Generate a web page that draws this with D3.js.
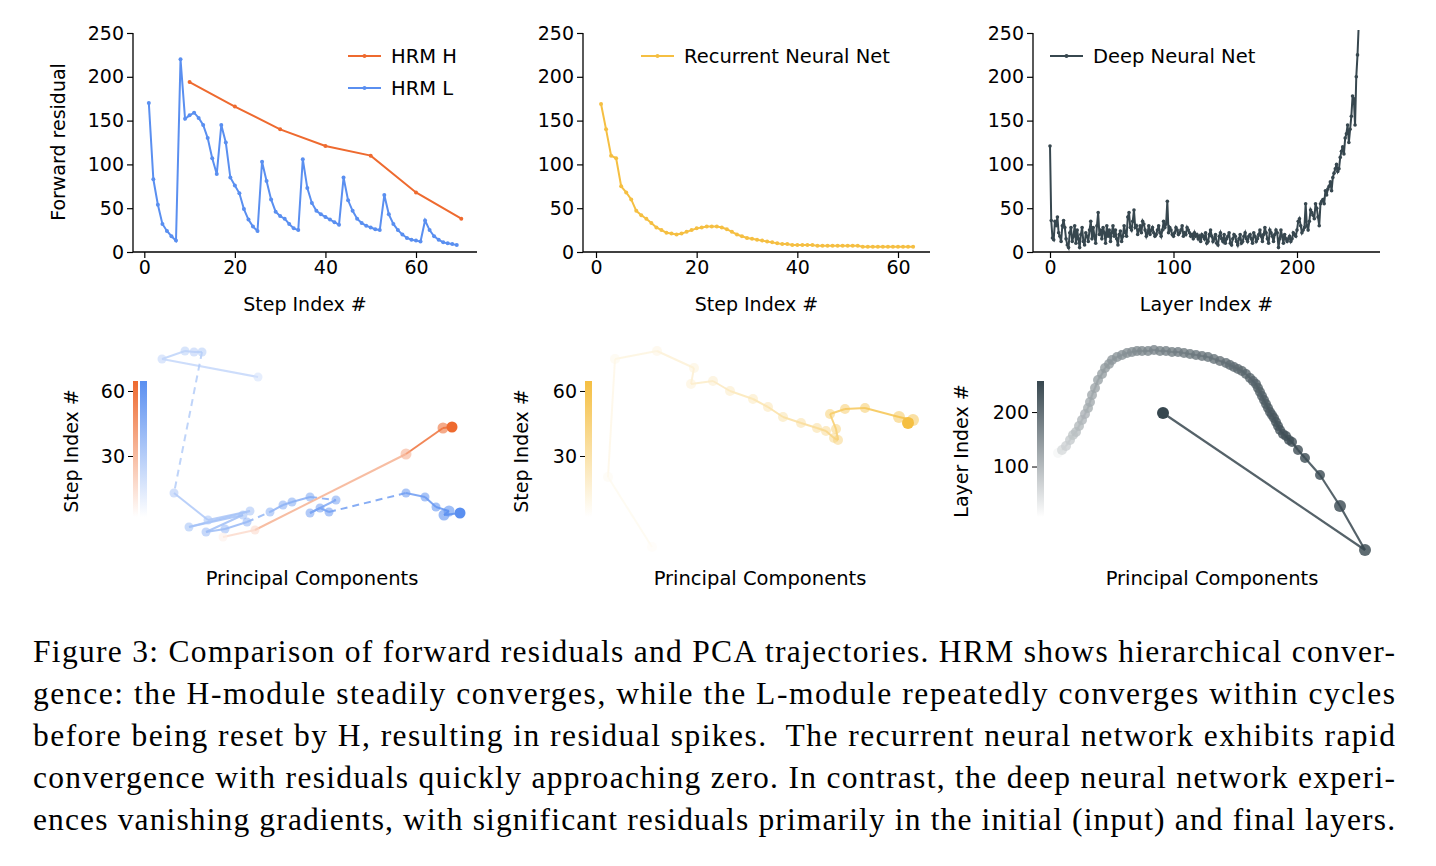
<!DOCTYPE html>
<html><head><meta charset="utf-8">
<script src="https://cdn.jsdelivr.net/npm/d3@7/dist/d3.min.js"></script>
<style>body{margin:0;background:#fff}svg{display:block}</style>
</head><body><svg id="c" width="1436" height="866"></svg>
<script>
// ---------- DATA ----------
const hrmLSteps = d3.range(1, 70);
const hrmL = [170,83,54,32,24,18,13,220,152,156,159,153,145,130,107,89,145,125,85,76,67,49,37,29,24,
  103,81,60,46,41,38,32,27,25,106,73,56,47,43,40,37,34,31,85,59,47,38,33,30,28,26,25,
  65,43,32,25,20,16,14,13,12,36,25,18,14,11,10,9,8];
const hrmHSteps = [10,20,30,40,50,60,70];
const hrmH = [194,166,140,121,110,68,38];
const rnnSteps = d3.range(1, 64);
const rnn = [169,140,110,107,75,68,60,47,42,38,33,28,25,22,21,20,21,23,25,27,28,29,29,29,28,26,23,20,18,16,
  15,14,13,12,11,10,9,9,8,8,8,8,8,7,7,7,7,7,7,7,7,7,6,6,6,6,6,6,6,6,6,6,6];
const dnn = [121,36,16,14,35,30,40,22,18,12, 30,36,28,15,8,5,22,28,12,18, 30,10,25,15,5,20,28,12,8,22,
  18,12,25,35,15,28,18,10,30,45, 20,25,15,28,22,10,30,18,25,12, 22,30,18,25,15,8,20,24,12,18,
  30,22,18,40,45,28,25,35,48,28, 30,20,25,30,22,35,32,25,18,22, 30,20,25,28,22,18,20,25,30,22,
  18,25,35,28,32,58,22,28,25,20, 18,22,28,25,20,22,25,30,18,22, 20,28,25,22,18,20,15,22,18,20,
  15,18,12,20,18,15,22,10,12,20, 25,18,12,15,20,10,8,18,22,15, 12,20,10,15,18,22,10,8,15,20,
  18,12,8,15,20,10,12,18,22,15, 12,18,20,15,10,22,18,12,15,20, 25,18,12,20,28,22,15,10,25,22,
  18,12,20,25,22,5,15,25,18,10, 20,15,12,15,18,12,15,22,20,18, 25,35,38,30,22,25,28,55,30,25,
  35,48,45,42,38,55,50,40,30,55, 58,60,55,70,65,72,75,80,70,85, 90,95,100,92,95,108,115,120,112,130,
  135,145,125,140,155,178,175,145,200,225,260];
const yTicks = [0,50,100,150,200,250];

// PCA trajectories (PC1, PC2 in arbitrary units; t = step/layer index; dashed = segment into this point)
const pcaH = {pc1:[73,105,256,293,302], pc2:[23,30,106,132,133], t:[0,10,30,60,64]};
const pcaL = {
  pc1:[108,12,35,44,52,24,58,100,39,93,56,75,97,120,133,142,160,186,160,170,179,256,275,286,299,294,310],
  pc2:[183,201,209,208,208,67,40,49,33,45,28,31,38,48,55,58,63,60,47,52,48,67,63,53,49,45,47],
  t:[0,4,6,7,8,10,13,14,16,18,20,22,24,27,30,33,35,37,40,43,45,48,52,56,60,63,65],
  dashed:[0,0,0,0,0,1,0,0,0,0,0,0,0,1,0,0,0,1,0,0,0,1,0,0,0,0,0]};
const pcaR = {
  pc1:[72,28,35,77,114,111,133,150,173,188,203,221,237,246,254,258,256,250,265,285,319,333,328],
  pc2:[13,83,201,209,192,176,179,169,161,153,143,137,132,129,122,120,131,146,151,152,143,140,137],
  t:[0,2,5,8,11,13,16,19,22,25,28,31,34,37,40,43,46,49,52,55,58,61,63]};
const pcaD = {
  pc1:[28,32,36,40,43,46,49,52,55,58,60,62,65,68,72,75,79,82,87,92,97,102,107,112,118,124,130,136,142,148,154,160,166,172,178,184,190,196,200,204,208,212,216,220,223,226,228,230,232,234,236,238,240,242,244,246,248,250,253,256,259,262,268,275,290,310,335,133],
  pc2:[107,110,114,120,125,128,134,140,146,152,158,165,172,180,186,192,196,200,203,205,207,208,209,209,209,210,209,209,208,208,207,206,205,204,203,201,199,197,195,193,191,189,186,182,179,176,172,168,164,160,156,152,148,145,142,138,134,130,126,124,120,118,110,102,85,54,10,147],
  t:null};
pcaD.t = pcaD.pc1.map((d, i) => i === pcaD.pc1.length - 1 ? 250 : Math.round(i * 249 / (pcaD.pc1.length - 2)));

// ---------- DRAW ----------
const svg = d3.select("#c");
const F = "DejaVu Sans";
const cH = "#EE6A2F", cL = "#5A8FF0", cR = "#F5BF42", cD = "#37474F";

function linePanel(o) {
  const g = svg.append("g");
  const x = d3.scaleLinear().domain(o.xd).range(o.xr);
  const y = d3.scaleLinear().domain([0,250]).range([252,33]);
  const cid = "clip" + o.id;
  svg.append("clipPath").attr("id", cid).append("rect").attr("x", o.ax).attr("y", 30).attr("width", o.axEnd - o.ax).attr("height", 224);
  g.append("g").attr("transform", `translate(${o.ax},0)`).call(d3.axisLeft(y).tickValues(yTicks).tickSize(6).tickSizeOuter(0));
  g.append("g").attr("transform", `translate(0,252)`).call(d3.axisBottom(x).tickValues(o.xt).tickSize(6).tickSizeOuter(0));
  g.selectAll(".domain").remove();
  g.append("line").attr("x1", o.ax).attr("x2", o.ax).attr("y1", 33).attr("y2", 252).attr("stroke", "#000").attr("stroke-width", 1.3);
  g.append("line").attr("x1", o.ax).attr("x2", o.axEnd).attr("y1", 252).attr("y2", 252).attr("stroke", "#000").attr("stroke-width", 1.3);
  g.selectAll(".tick text").attr("font-family", F).attr("font-size", 19).attr("fill", "#000");
  g.selectAll(".tick line").attr("stroke-width", 1.2);
  g.append("text").attr("x", (o.ax + o.axEnd) / 2).attr("y", 311).attr("text-anchor", "middle").attr("font-family", F).attr("font-size", 19).text(o.xl);
  if (o.yl) g.append("text").attr("transform", "translate(65,142) rotate(-90)").attr("text-anchor", "middle").attr("font-family", F).attr("font-size", 19).text(o.yl);
  const lg = g.append("g").attr("clip-path", `url(#${cid})`);
  o.series.forEach(s => {
    const pts = s.xs.map((d, i) => [x(d), y(s.ys[i])]);
    lg.append("path").attr("d", d3.line()(pts)).attr("fill", "none").attr("stroke", s.c).attr("stroke-width", 2);
    lg.selectAll(null).data(pts).join("circle").attr("cx", d => d[0]).attr("cy", d => d[1]).attr("r", s.r || 2).attr("fill", s.c);
  });
  o.legend.forEach((s, i) => {
    const yy = o.ly + i * 32;
    g.append("line").attr("x1", o.lx).attr("x2", o.lx + 33).attr("y1", yy).attr("y2", yy).attr("stroke", s.c).attr("stroke-width", 2);
    g.append("circle").attr("cx", o.lx + 16.5).attr("cy", yy).attr("r", 2).attr("fill", s.c);
    g.append("text").attr("x", o.lx + 43).attr("y", yy + 7).attr("font-family", F).attr("font-size", 19.5).text(s.name);
  });
}

linePanel({id:1, ax:133, axEnd:477, xd:[0,60], xr:[144.3,416], xt:[0,20,40,60], xl:"Step Index #", yl:"Forward residual",
  series:[{xs:hrmHSteps, ys:hrmH, c:cH}, {xs:hrmLSteps, ys:hrmL, c:cL}],
  legend:[{name:"HRM H", c:cH}, {name:"HRM L", c:cL}], lx:348, ly:56});
linePanel({id:2, ax:583, axEnd:930, xd:[0,60], xr:[596,898], xt:[0,20,40,60], xl:"Step Index #",
  series:[{xs:rnnSteps, ys:rnn, c:cR}], legend:[{name:"Recurrent Neural Net", c:cR}], lx:641, ly:56});
linePanel({id:3, ax:1033, axEnd:1380, xd:[0,200], xr:[1050,1297], xt:[0,100,200], xl:"Layer Index #",
  series:[{xs:d3.range(dnn.length), ys:dnn, c:cD, r:1.8}], legend:[{name:"Deep Neural Net", c:cD}], lx:1050, ly:56});

// ---------- PCA panels ----------
function colorbar(x0, w, color) {
  const id = "g" + x0;
  const gr = svg.append("defs").append("linearGradient").attr("id", id).attr("x1", 0).attr("x2", 0).attr("y1", 1).attr("y2", 0);
  gr.append("stop").attr("offset", "0%").attr("stop-color", "#fff");
  gr.append("stop").attr("offset", "100%").attr("stop-color", color);
  svg.append("rect").attr("x", x0).attr("y", 381).attr("width", w).attr("height", 136).attr("fill", `url(#${id})`);
}
function cbAxis(x0, max, ticks, label, lblX) {
  const s = d3.scaleLinear().domain([0, max]).range([521, 381]);
  const g = svg.append("g").attr("transform", `translate(${x0},0)`).call(d3.axisLeft(s).tickValues(ticks).tickSize(5));
  g.select(".domain").remove();
  g.selectAll(".tick text").attr("font-family", F).attr("font-size", 19);
  svg.append("text").attr("transform", `translate(${lblX},451) rotate(-90)`).attr("text-anchor", "middle").attr("font-family", F).attr("font-size", 19).text(label);
}
function pca(tr, color, tmax, x0, y0, dotR, lw, startFade, gamma, halo) {
  const x = d3.scaleLinear().domain([0, 320]).range([x0, x0 + 320]);
  const y = d3.scaleLinear().domain([0, 220]).range([y0, y0 - 220]);
  const col = t => d3.interpolateRgb("#ffffff", color)(startFade + (1 - startFade) * Math.pow(t / tmax, gamma));
  const n = tr.pc1.length;
  for (let i = 1; i < n; i++) {
    svg.append("line").attr("x1", x(tr.pc1[i-1])).attr("y1", y(tr.pc2[i-1])).attr("x2", x(tr.pc1[i])).attr("y2", y(tr.pc2[i]))
      .attr("stroke", col(tr.t[i])).attr("stroke-width", lw).attr("stroke-opacity", 0.85)
      .attr("stroke-dasharray", tr.dashed && tr.dashed[i] ? "7,5" : null);
  }
  for (let i = 0; i < n; i++) {
    const big = i >= n - 3;
    svg.append("circle").attr("cx", x(tr.pc1[i])).attr("cy", y(tr.pc2[i])).attr("r", big ? dotR + 1 : dotR)
      .attr("fill", col(tr.t[i])).attr("fill-opacity", i === n - 1 ? 1 : halo);
  }
}
colorbar(133, 5, cH); colorbar(140, 7, cL); cbAxis(133, 64.6, [30,60], "Step Index #", 78);
pca(pcaL, cL, 65, 150, 560, 4.5, 2, 0.25, 0.7, 0.6);
pca(pcaH, cH, 64, 150, 560, 4.5, 2, 0.1, 1, 0.6);
colorbar(585, 7, cR); cbAxis(585, 64.6, [30,60], "Step Index #", 528);
pca(pcaR, cR, 63, 580, 560, 5, 2, 0.05, 1, 0.5);
colorbar(1037, 7, cD); cbAxis(1037, 257, [100,200], "Layer Index #", 968);
pca(pcaD, cD, 250, 1030, 560, 5, 2.2, 0.05, 0.45, 0.8);
[312, 760, 1212].forEach(cx => svg.append("text").attr("x", cx).attr("y", 585).attr("text-anchor", "middle").attr("font-family", F).attr("font-size", 19.5).text("Principal Components"));

// ---------- caption ----------
const caption = [
  "Figure 3: Comparison of forward residuals and PCA trajectories. HRM shows hierarchical conver-",
  "gence: the H-module steadily converges, while the L-module repeatedly converges within cycles",
  "before being reset by H, resulting in residual spikes.  The recurrent neural network exhibits rapid",
  "convergence with residuals quickly approaching zero. In contrast, the deep neural network experi-",
  "ences vanishing gradients, with significant residuals primarily in the initial (input) and final layers."];
caption.forEach((l, i) => svg.append("text").attr("x", 33).attr("y", 662 + i * 42).attr("font-family", "Liberation Serif").attr("font-size", 31.5)
  .attr("textLength", 1362).attr("lengthAdjust", "spacing").attr("xml:space", "preserve").text(l));
</script></body></html>
